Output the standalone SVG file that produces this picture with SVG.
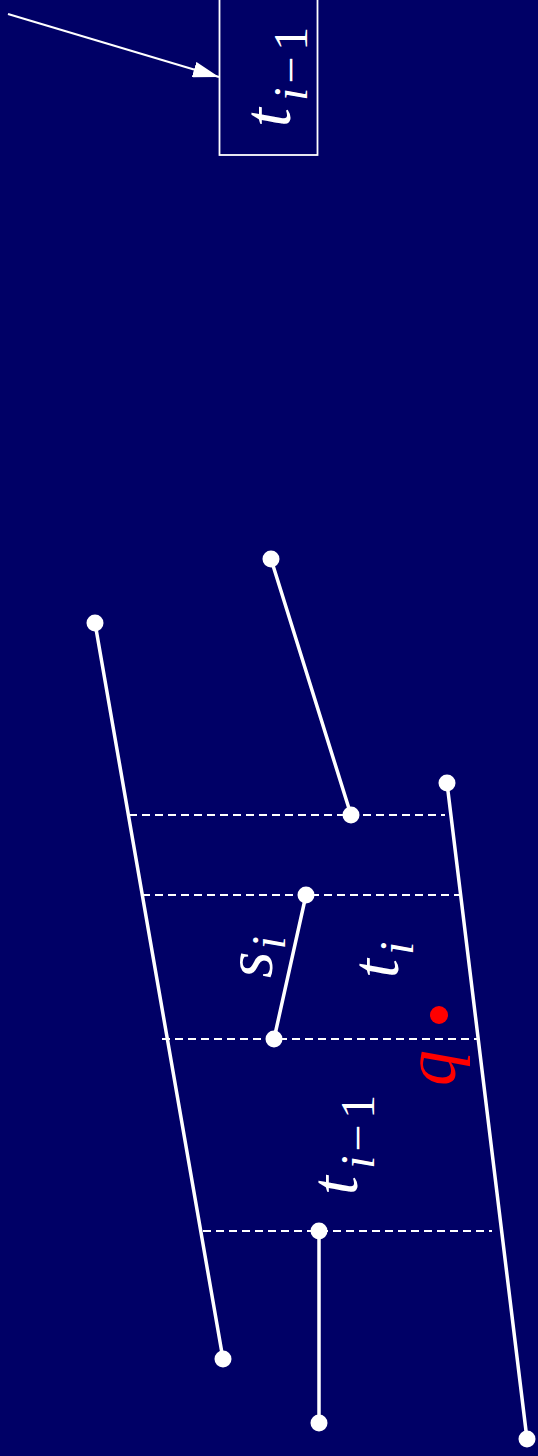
<svg xmlns="http://www.w3.org/2000/svg" width="538" height="1456" viewBox="0 0 538 1456">
<defs>
<style>
.seg{stroke:#fff;stroke-width:3.5;fill:none;stroke-linecap:round}
.dot{fill:#fff}
.dash{stroke:#fff;stroke-width:2;stroke-dasharray:8,5;fill:none}
.lbl{font-family:"Liberation Serif","Times New Roman",serif;font-size:68px;fill:#fff}
.it{font-style:italic}
.sub{font-size:48px}
</style>
<marker id="ah" markerWidth="26" markerHeight="16" refX="26" refY="8" orient="auto" markerUnits="userSpaceOnUse">
<path d="M0,0 L26,8 L0,16 Z" fill="#fff"/>
</marker>
</defs>
<rect x="0" y="0" width="538" height="1456" fill="#000066"/>

<g id="sweeplines">
<line class="dash" x1="129" y1="815" x2="445" y2="815"/>
<line class="dash" x1="142" y1="895" x2="459" y2="895"/>
<line class="dash" x1="162" y1="1039" x2="477" y2="1039"/>
<line class="dash" x1="203" y1="1231" x2="492" y2="1231"/>
</g>

<g id="seg-left">
<line class="seg" x1="95" y1="623" x2="223" y2="1359"/>
<circle class="dot" cx="95" cy="623" r="8.5"/>
<circle class="dot" cx="223" cy="1359" r="8.5"/>
</g>
<g id="seg-upper">
<line class="seg" x1="271" y1="559" x2="351" y2="815"/>
<circle class="dot" cx="271" cy="559" r="8.5"/>
<circle class="dot" cx="351" cy="815" r="8.5"/>
</g>
<g id="seg-right">
<line class="seg" x1="447" y1="783" x2="527" y2="1439"/>
<circle class="dot" cx="447" cy="783" r="8.5"/>
<circle class="dot" cx="527" cy="1439" r="8.5"/>
</g>
<g id="seg-si">
<line class="seg" x1="306" y1="895" x2="274" y2="1039"/>
<circle class="dot" cx="306" cy="895" r="8.5"/>
<circle class="dot" cx="274" cy="1039" r="8.5"/>
</g>
<g id="seg-bottom">
<line class="seg" x1="319" y1="1231" x2="319" y2="1423"/>
<circle class="dot" cx="319" cy="1231" r="8.5"/>
<circle class="dot" cx="319" cy="1423" r="8.5"/>
</g>

<g id="point-q">
<circle cx="439" cy="1015" r="9" fill="#ff0000"/>
<text class="lbl it" style="fill:#ff0000;font-size:72px" transform="translate(455,1086) rotate(-90)">q</text>
</g>

<g id="label-si">
<text class="lbl" transform="translate(272,978) rotate(-90)"><tspan class="it">s</tspan><tspan class="it sub" dx="2" dy="13">i</tspan></text>
</g>
<g id="label-ti">
<text class="lbl" transform="translate(398,978) rotate(-90)"><tspan class="it">t</tspan><tspan class="it sub" dx="4" dy="15">i</tspan></text>
</g>
<g id="label-ti1">
<text class="lbl" transform="translate(357,1195) rotate(-90)"><tspan class="it">t</tspan><tspan class="it sub" dx="7" dy="17">i</tspan><tspan class="sub" dx="4">−</tspan><tspan class="sub" dx="6">1</tspan></text>
</g>

<g id="box-ti1">
<rect x="219.5" y="-1" width="98" height="156" fill="none" stroke="#fff" stroke-width="1.8"/>
<text class="lbl" transform="translate(290,127) rotate(-90)"><tspan class="it">t</tspan><tspan class="it sub" dx="7" dy="17">i</tspan><tspan class="sub" dx="4">−</tspan><tspan class="sub" dx="6">1</tspan></text>
</g>

<g id="connectors">
<line x1="8" y1="14" x2="219" y2="77" stroke="#fff" stroke-width="2" marker-end="url(#ah)"/>
</g>
</svg>
